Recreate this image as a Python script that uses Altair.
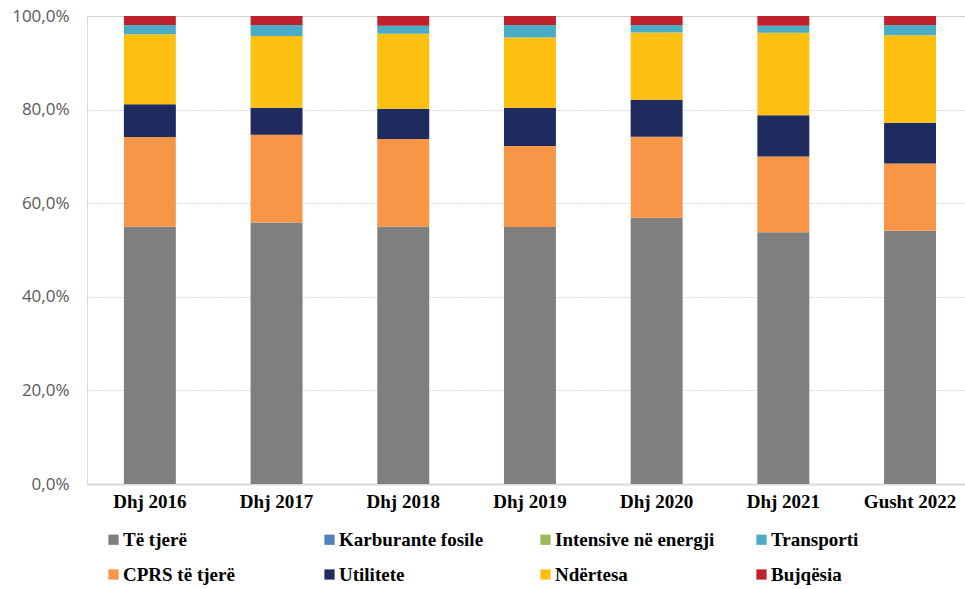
import altair as alt
import pandas as pd

periods = ["Dhj 2016", "Dhj 2017", "Dhj 2018", "Dhj 2019", "Dhj 2020", "Dhj 2021", "Gusht 2022"]

# Series (percent of total), stacked bottom -> top in this order
te_tjere = [55.0, 55.9, 55.0, 54.9, 56.9, 53.8, 54.1]
cprs_te_tjere = [19.2, 18.7, 18.7, 17.3, 17.3, 16.2, 14.4]
karburante = [0.0, 0.0, 0.0, 0.0, 0.0, 0.0, 0.0]
utilitete = [7.0, 5.8, 6.5, 8.2, 7.9, 8.8, 8.7]
intensive = [0.0, 0.0, 0.0, 0.0, 0.0, 0.0, 0.0]
ndertesa = [15.0, 15.3, 16.0, 15.0, 14.4, 17.6, 18.7]
transporti = [2.0, 2.4, 1.7, 2.7, 1.6, 1.5, 2.2]
bujqesia = [1.9, 1.9, 2.1, 1.9, 1.9, 2.1, 1.9]

stack_series = [
    ("Të tjerë", te_tjere),
    ("CPRS të tjerë", cprs_te_tjere),
    ("Karburante fosile", karburante),
    ("Utilitete", utilitete),
    ("Intensive në energji", intensive),
    ("Ndërtesa", ndertesa),
    ("Transporti", transporti),
    ("Bujqësia", bujqesia),
]

# legend fills column by column (2 rows x 4 columns)
legend_order = ["Të tjerë", "CPRS të tjerë", "Karburante fosile", "Utilitete",
                "Intensive në energji", "Ndërtesa", "Transporti", "Bujqësia"]
legend_colors = ["#7f7f7f", "#f79646", "#4f81bd", "#1f2a5e",
                 "#9bbb59", "#fdc010", "#4bacc6", "#c0202a"]

rows = []
for idx, (name, vals) in enumerate(stack_series):
    for p, v in zip(periods, vals):
        rows.append({"period": p, "series": name, "value": v, "ord": idx})
df = pd.DataFrame(rows)

serif = "Liberation Serif"
sans = "Open Sans"

chart = alt.Chart(df).mark_bar().encode(
    x=alt.X("period:N", sort=periods, title=None,
            scale=alt.Scale(paddingInner=0.59, paddingOuter=0.26, align=0.56),
            axis=alt.Axis(labelAngle=0, labelFont=serif, labelFontWeight="bold",
                          labelFontSize=19, labelColor="#000000", labelPadding=8,
                          ticks=False, domain=True, domainColor="#d9d9d9",
                          domainWidth=2, grid=False)),
    y=alt.Y("value:Q", stack="normalize", title=None,
            scale=alt.Scale(domain=[0, 1], nice=False),
            axis=alt.Axis(values=[0, 0.2, 0.4, 0.6, 0.8, 1.0],
                          labelExpr="replace(format(datum.value, '.1%'), '.', ',')",
                          labelFont=sans, labelFontSize=17, labelColor="#595959",
                          labelPadding=18, ticks=False, domain=False,
                          grid=True, gridDash=[1, 2], gridColor="#b8b8b8",
                          gridWidth=1)),
    color=alt.Color("series:N",
                    scale=alt.Scale(domain=legend_order, range=legend_colors),
                    legend=alt.Legend(title=None, orient="none", legendX=17,
                                      legendY=514, columns=4, gridAlign="all",
                                      columnPadding=37, rowPadding=15,
                                      symbolType="square", symbolSize=105,
                                      symbolStrokeWidth=0, labelOffset=0,
                                      labelFont=serif, labelFontWeight="bold",
                                      labelFontSize=19, labelColor="#000000",
                                      labelLimit=400)),
    order=alt.Order("ord:Q", sort="ascending"),
).properties(
    width=878, height=468,
    autosize=alt.AutoSizeParams(type="none"),
    padding={"left": 87, "top": 16, "right": 0, "bottom": 105},
).configure_view(stroke=None).configure(background="white")

chart.save("out.html", embed_options={"renderer": "svg", "actions": False})
